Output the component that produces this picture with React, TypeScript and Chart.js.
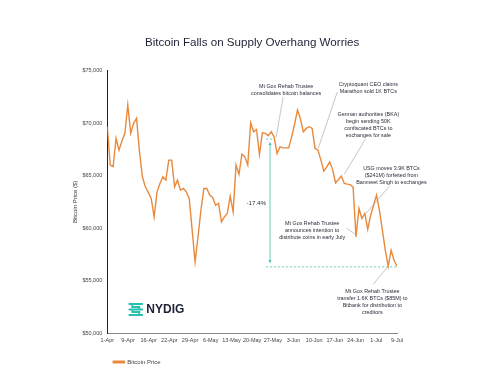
import React, { useEffect, useRef } from "react";
import { Chart, registerables } from "chart.js";

Chart.register(...registerables);

const titleText = "Bitcoin Falls on Supply Overhang Worries";
const seriesName = "Bitcoin Price";
const yAxisTitle = "Bitcoin Price ($)";

const tickLabels = [
  "1-Apr", "9-Apr", "16-Apr", "22-Apr", "29-Apr", "6-May", "13-May", "20-May",
  "27-May", "3-Jun", "10-Jun", "17-Jun", "24-Jun", "1-Jul", "9-Jul",
];

// daily closes, 1-Apr .. 9-Jul
const prices = [
  69650, 66000, 65850, 68550, 67430, 68300, 69030, 71730, 69030, 69980,
  70460, 67270, 64890, 63930, 63400, 62820, 61070, 63450, 64250, 64890,
  64570, 66480, 66480, 63930, 64570, 63620, 63780, 63450, 62820, 59800,
  56780, 59160, 61710, 63780, 63780, 63140, 62920, 62180, 62350, 60590,
  61070, 61390, 63040, 61550, 66000, 65120, 67050, 66790, 66000, 70040,
  69180, 69400, 67020, 69080, 69030, 68800, 69180, 68700, 67110, 67750,
  67650, 67650, 67650, 68700, 69900, 71250, 70400, 69180, 69500, 69660,
  69500, 67590, 67430, 66480, 65430, 65840, 66320, 65600, 64310, 64630,
  64950, 64250, 64190, 64150, 63900, 59160, 61870, 60910, 61390, 59870,
  61230, 62180, 63140, 61710, 59800, 57890, 56360, 57890, 56930, 56360,
];

const yMin = 50000;
const yMax = 75000;
const yStep = 5000;

const dropHigh = 68200;
const dropLow = 56300;
const dropLabel = "-17.4%";

// notes: text lines, anchor (day index, price), leader line from -> to
const notes = [
  { lines: ["Mt Gox Rehab Trustee", "consolidates bitcoin balances"], at: [61.1, 73540], leader: [60.1, 72490, 57.7, 68670] },
  { lines: ["Cryptoquant CEO claims", "Marathon sold 1K BTCs"], at: [89.2, 73730], leader: [78.6, 72970, 72.1, 67620] },
  { lines: ["German authorities (BKA)", "begin sending 50K", "confiscated BTCs to", "exchanges for sale"], at: [89.2, 70870], leader: [88.2, 68480, 81.0, 65140] },
  { lines: ["USG moves 3.9K BTCs", "($241M) forfeited from", "Banmeet Singh to exchanges"], at: [97.1, 65720], leader: [96.4, 64000, 88.5, 61430] },
  { lines: ["Mt Gox Rehab Trustee", "announces intention to", "distribute coins in early July"], at: [70.0, 60470], leader: [81.7, 59990, 84.8, 59420] },
  { lines: ["Mt Gox Rehab Trustee", "transfer 1.6K BTCs ($85M) to", "Bitbank for distribution to", "creditors"], at: [90.6, 53980], leader: [90.9, 54650, 95.7, 56270] },
];

const ORANGE = "#e8893c";
const TEAL = "#3cc2ab";
const NAVY = "#1d2136";
const FONT = "'Liberation Sans', Arial, sans-serif";

const notesPlugin = {
  id: "notes",
  afterDatasetsDraw(chart: any) {
    const { ctx, scales } = chart;
    const xs = scales.x;
    const ys = scales.y;
    const P = (i: number, v: number) => [xs.getPixelForValue(i), ys.getPixelForValue(v)];
    ctx.save();

    // drop arrow
    const ax = 55.6;
    const [axp, top] = P(ax, dropHigh);
    const [, bot] = P(ax, dropLow + 350);
    ctx.strokeStyle = TEAL;
    ctx.fillStyle = TEAL;
    ctx.lineWidth = 0.8;
    ctx.beginPath();
    ctx.moveTo(axp, top + 2);
    ctx.lineTo(axp, bot - 2);
    ctx.stroke();
    ctx.beginPath();
    ctx.moveTo(axp, top);
    ctx.lineTo(axp - 1.6, top + 3);
    ctx.lineTo(axp + 1.6, top + 3);
    ctx.closePath();
    ctx.fill();
    ctx.beginPath();
    ctx.moveTo(axp, bot);
    ctx.lineTo(axp - 1.6, bot - 3);
    ctx.lineTo(axp + 1.6, bot - 3);
    ctx.closePath();
    ctx.fill();

    ctx.setLineDash([2, 2]);
    const [lx1, ly] = P(54.3, dropLow);
    const [lx2] = P(99.2, dropLow);
    ctx.beginPath();
    ctx.moveTo(lx1, ly);
    ctx.lineTo(lx2, ly);
    ctx.stroke();
    const [tx1, ty] = P(54.3, dropHigh + 280);
    const [tx2] = P(56.9, dropHigh + 280);
    ctx.beginPath();
    ctx.moveTo(tx1, ty);
    ctx.lineTo(tx2, ty);
    ctx.stroke();
    ctx.setLineDash([]);

    // drop label
    ctx.fillStyle = "#2a2d3a";
    ctx.font = `6.2px ${FONT}`;
    ctx.textAlign = "center";
    ctx.textBaseline = "middle";
    const [plx, ply] = P(50.9, 62380);
    ctx.fillText(dropLabel, plx, ply);

    // notes
    ctx.font = `5.4px ${FONT}`;
    for (const n of notes) {
      const [cx, cy] = P(n.at[0], n.at[1]);
      n.lines.forEach((ln, k) => ctx.fillText(ln, cx, cy + k * 7.2));
      const [a1, b1] = P(n.leader[0], n.leader[1]);
      const [a2, b2] = P(n.leader[2], n.leader[3]);
      ctx.strokeStyle = "#a0a0a0";
      ctx.lineWidth = 0.6;
      ctx.beginPath();
      ctx.moveTo(a1, b1);
      ctx.lineTo(a2, b2);
      ctx.stroke();
    }
    ctx.restore();
  },
  afterDraw(chart: any) {
    const { ctx, chartArea } = chart;
    const lx = chartArea.left + 21;
    const ly = chartArea.bottom - 30;
    ctx.save();
    ctx.strokeStyle = "#27c2ad";
    ctx.lineWidth = 1.8;
    ctx.lineCap = "round";
    ctx.beginPath();
    // top bar
    ctx.moveTo(lx + 1, ly + 1);
    ctx.lineTo(lx + 14, ly + 1);
    // upper S
    ctx.moveTo(lx + 4, ly + 1);
    ctx.lineTo(lx + 4, ly + 4);
    ctx.lineTo(lx + 11, ly + 4);
    ctx.lineTo(lx + 11, ly + 6.5);
    // middle bar
    ctx.moveTo(lx + 1, ly + 6.5);
    ctx.lineTo(lx + 14, ly + 6.5);
    // lower S
    ctx.moveTo(lx + 4, ly + 6.5);
    ctx.lineTo(lx + 4, ly + 9);
    ctx.lineTo(lx + 11, ly + 9);
    ctx.lineTo(lx + 11, ly + 12);
    // bottom bar
    ctx.moveTo(lx + 1, ly + 12);
    ctx.lineTo(lx + 14, ly + 12);
    ctx.stroke();
    ctx.fillStyle = NAVY;
    ctx.font = `bold 12px ${FONT}`;
    ctx.textAlign = "left";
    ctx.textBaseline = "middle";
    ctx.fillText("NYDIG", lx + 18, ly + 7);
    ctx.restore();
  },
};

export default function App() {
  const ref = useRef<HTMLCanvasElement | null>(null);
  useEffect(() => {
    if (!ref.current) return;
    const lastIndex = prices.length - 1;
    const chart = new Chart(ref.current, {
      type: "line",
      data: {
        datasets: [
          {
            label: seriesName,
            data: prices.map((v, i) => ({ x: i, y: v })),
            borderColor: ORANGE,
            backgroundColor: ORANGE,
            borderWidth: 1.4,
            pointRadius: 0,
            tension: 0,
          },
        ],
      },
      options: {
        responsive: false,
        animation: false,
        layout: { padding: { left: 67, right: 95, top: 30, bottom: 12 } },
        plugins: {
          title: {
            display: true,
            text: titleText,
            fullSize: false,
            color: NAVY,
            font: { family: FONT, size: 11.6, weight: "normal" },
            padding: { top: 6, bottom: 20.8 },
          },
          legend: {
            display: true,
            position: "bottom",
            align: "start",
            fullSize: false,
            labels: {
              boxWidth: 11,
              boxHeight: 1.6,
              padding: 6,
              color: "#444",
              font: { family: FONT, size: 6 },
            },
          },
          tooltip: { enabled: false },
        },
        scales: {
          x: {
            type: "linear",
            min: 0,
            max: lastIndex,
            afterBuildTicks: (scale: any) => {
              scale.ticks = tickLabels.map((_, k) => ({ value: (k * lastIndex) / (tickLabels.length - 1) }));
            },
            afterFit: (scale: any) => {
              scale.height = 20;
            },
            grid: { display: false, drawTicks: false },
            border: { display: true, color: "#8a8a8a", width: 1 },
            ticks: {
              autoSkip: false,
              maxRotation: 0,
              padding: 4,
              color: "#444",
              font: { family: FONT, size: 5.5 },
              callback: (_v: any, idx: number) => tickLabels[idx],
            },
          },
          y: {
            min: yMin,
            max: yMax,
            afterFit: (scale: any) => {
              scale.width = 40.3;
            },
            grid: { display: false, drawTicks: false },
            border: { display: true, color: "#222", width: 1 },
            title: {
              display: true,
              text: yAxisTitle,
              color: "#333",
              font: { family: FONT, size: 6 },
              padding: { top: 5, bottom: 0 },
            },
            ticks: {
              stepSize: yStep,
              padding: 5,
              color: "#444",
              font: { family: FONT, size: 5.5 },
              callback: (v: any) => "$" + Number(v).toLocaleString("en-US"),
            },
          },
        },
      },
      plugins: [notesPlugin],
    } as any);
    return () => chart.destroy();
  }, []);
  return (
    <div style={{ position: "fixed", left: 0, top: 0, width: 492, height: 387, background: "#fff" }}>
      <canvas ref={ref} width={492} height={387} style={{ display: "block" }} />
    </div>
  );
}
